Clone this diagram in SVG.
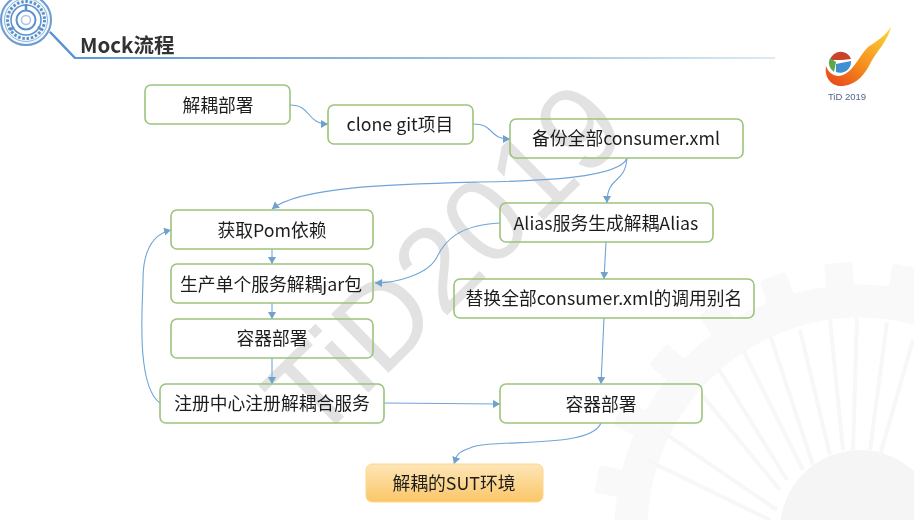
<svg xmlns="http://www.w3.org/2000/svg" width="914" height="520" viewBox="0 0 914 520">
<style>
.n{fill:none;stroke:#9cc47c;stroke-width:1.6}
.t{font-family:"Noto Sans CJK SC","Noto Sans",sans-serif;font-size:17.8px;fill:#1f1f1f;text-anchor:middle;dominant-baseline:central}
.c{fill:none;stroke:#6fa5d8;stroke-width:1.1;marker-end:url(#a)}
.sp{stroke:#f7f7f7;stroke-width:4;fill:none}
.tooth{fill:#f9f9f9}
</style>
<defs>
<marker id="a" markerUnits="userSpaceOnUse" markerWidth="9" markerHeight="9" refX="7" refY="4" orient="auto"><path d="M0 0L7 4L0 8Z" fill="#6fa0cc"/></marker>
<linearGradient id="hl" x1="0" x2="1" y1="0" y2="0"><stop offset="0" stop-color="#5b93d3"/><stop offset=".7" stop-color="#a9cbe6"/><stop offset="1" stop-color="#dcebf5"/></linearGradient>
<linearGradient id="sut" x1="0" x2="0" y1="0" y2="1"><stop offset="0" stop-color="#fde6b8"/><stop offset="1" stop-color="#fbc667"/></linearGradient>
<linearGradient id="fl" x1="0.1" y1="1" x2="0.9" y2="0"><stop offset="0" stop-color="#e8481c"/><stop offset=".45" stop-color="#f68f1e"/><stop offset="1" stop-color="#fbd23a"/></linearGradient>
<filter id="b" x="-5%" y="-5%" width="110%" height="110%"><feGaussianBlur stdDeviation="0.35"/></filter>
<rect id="th" x="846" y="262" width="28" height="30" rx="4"/>
</defs>
<rect width="914" height="520" fill="#fff"/>
<g id="bg-gear">
<circle cx="860" cy="530" r="229" fill="none" stroke="#f9f9f9" stroke-width="33"/>
<g class="tooth">
<use href="#th" transform="rotate(-4.7 860 530)"/>
<use href="#th" transform="rotate(10 860 530)"/>
<use href="#th" transform="rotate(-19 860 530)"/>
<use href="#th" transform="rotate(-34 860 530)"/>
<use href="#th" transform="rotate(-49 860 530)"/>
<use href="#th" transform="rotate(-64 860 530)"/>
<use href="#th" transform="rotate(-79 860 530)"/>
</g>
<circle cx="860" cy="530" r="80" fill="#f5f5f5"/>
<path class="sp" d="M830 320L843 450M857 318L853 450M887 322L870 450M800 330L830 455M770 335L813 465M743 350L803 470M718 368L787 480M702 395L780 490M660 430L777 510M647 460L770 520M913 340L880 455"/>
</g>
<text id="watermark" x="0" y="0" transform="translate(314 446) rotate(-44.5)" style="font-family:'Liberation Sans',sans-serif;font-size:119px;fill:#e2e2e2">TiD2019</text>
<g id="logo" filter="url(#b)">
<circle cx="26" cy="20" r="25" fill="#f3f8fc" stroke="#6c9bd0" stroke-width="2"/>
<circle cx="26" cy="20" r="21.5" fill="none" stroke="#8fb5dc" stroke-width="1"/>
<circle cx="26" cy="20" r="18.5" fill="none" stroke="#5c92cb" stroke-width="3" stroke-dasharray="2.5 1.8"/>
<circle cx="26" cy="20" r="15" fill="#fff" stroke="#5c92cb" stroke-width="1.5"/>
<path d="M26 10V4M14 27L10 30M38 27L42 30" stroke="#5c92cb" stroke-width="2.5"/>
<circle cx="26" cy="20" r="9.5" fill="#fff" stroke="#5c92cb" stroke-width="2"/>
<circle cx="26" cy="20" r="4.5" fill="#fff" stroke="#a9c6e4" stroke-width="1.5"/>
</g>
<path id="rule" d="M50 32L75 58H775" fill="none" stroke="url(#hl)" stroke-width="2"/>
<path d="M50 32L75 58" fill="none" stroke="#5b93d3" stroke-width="2"/>
<text id="title" x="80" y="44" filter="url(#b)" style="font-family:'Noto Sans CJK SC','Noto Sans',sans-serif;font-size:20.5px;font-weight:700;fill:#333;dominant-baseline:central">Mock流程</text>
<g id="tid-logo" filter="url(#b)">
<path d="M891 27C888 40 878 50 871 62C865 74 858 84 843 86C831 87 824 77 826 66C830 76 838 78 845 74C855 68 860 55 868 47C876 42 885 36 891 27Z" fill="url(#fl)"/>
<circle cx="840" cy="62" r="12.5" fill="#fff"/>
<path d="M830 60A11 11 0 0 1 851 59L842 60Z" fill="#c9432b"/>
<path d="M830 58A11 11 0 0 0 834 72L836 62Z" fill="#5aa84a"/>
<path d="M836 64L851 61A11 11 0 0 1 836 72Z" fill="#3f8fd0"/>
<text x="847" y="96" style="font-family:'Liberation Sans',sans-serif;font-size:9.5px;fill:#55648a;text-anchor:middle;dominant-baseline:central">TiD 2019</text>
</g>
<g id="connectors" filter="url(#b)">
<path class="c" d="M290 105C312 105 306 124 328 124"/>
<path class="c" d="M473 124C495 124 488 139 510 139"/>
<path class="c" d="M627 158C620 178 540 181 480 182C400 184 300 186 272 209"/>
<path class="c" d="M627 158C625 185 607 175 607 203"/>
<path class="c" d="M500 223C460 225 445 240 437 257C428 275 395 283 375 283"/>
<path class="c" d="M606 242L604 279"/>
<path class="c" d="M604 318L601 384"/>
<path class="c" d="M272 249V264"/>
<path class="c" d="M272 303V319"/>
<path class="c" d="M272 358V384"/>
<path class="c" d="M160 403C135 385 143 300 143 280C143 255 150 235 171 230"/>
<path class="c" d="M384 403L500 404"/>
<path class="c" d="M601 423C590 450 490 438 470 448C455 453 456 458 454 464"/>
</g>
<g id="n1" filter="url(#b)"><rect class="n" x="145" y="85" width="145" height="39" rx="6"/><text class="t" x="218" y="104">解耦部署</text></g>
<g id="n2" filter="url(#b)"><rect class="n" x="328" y="105" width="145" height="39" rx="6"/><text class="t" x="400" y="123">clone git项目</text></g>
<g id="n3" filter="url(#b)"><rect class="n" x="510" y="119" width="233" height="39" rx="6"/><text class="t" x="626" y="137">备份全部consumer.xml</text></g>
<g id="n4" filter="url(#b)"><rect class="n" x="171" y="210" width="202" height="39" rx="6"/><text class="t" x="272" y="229">获取Pom依赖</text></g>
<g id="n5" filter="url(#b)"><rect class="n" x="500" y="203" width="213" height="39" rx="6"/><text class="t" x="606" y="222">Alias服务生成解耦Alias</text></g>
<g id="n6" filter="url(#b)"><rect class="n" x="171" y="264" width="202" height="39" rx="6"/><text class="t" x="271" y="283">生产单个服务解耦jar包</text></g>
<g id="n7" filter="url(#b)"><rect class="n" x="454" y="279" width="300" height="39" rx="6"/><text class="t" x="604" y="297">替换全部consumer.xml的调用别名</text></g>
<g id="n8" filter="url(#b)"><rect class="n" x="171" y="319" width="202" height="39" rx="6"/><text class="t" x="272" y="337">容器部署</text></g>
<g id="n9" filter="url(#b)"><rect class="n" x="160" y="384" width="224" height="39" rx="6"/><text class="t" x="272" y="402">注册中心注册解耦合服务</text></g>
<g id="n10" filter="url(#b)"><rect class="n" x="500" y="384" width="202" height="39" rx="6"/><text class="t" x="601" y="403">容器部署</text></g>
<g id="n11" filter="url(#b)"><rect x="366" y="464" width="177" height="38" rx="6" fill="url(#sut)" stroke="#fbd88f"/><text class="t" x="454" y="482">解耦的SUT环境</text></g>
</svg>
